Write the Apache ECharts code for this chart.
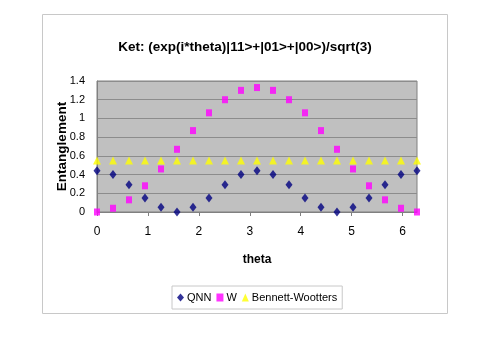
<!DOCTYPE html>
<html>
<head>
<meta charset="utf-8">
<script src="https://cdn.jsdelivr.net/npm/echarts@6/dist/echarts.min.js"></script>
<style>
  html, body { margin: 0; padding: 0; background: #fff; }
  #chart { width: 483px; height: 338px; }
</style>
</head>
<body>
<div id="chart"></div>
<script>
// theta samples, step pi/10
var theta = [0, 0.314, 0.628, 0.942, 1.257, 1.571, 1.885, 2.199, 2.513, 2.827, 3.142,
             3.456, 3.770, 4.084, 4.398, 4.712, 5.027, 5.341, 5.655, 5.969, 6.283];
var qnn = [0.44, 0.40, 0.29, 0.15, 0.05, 0.00, 0.05, 0.15, 0.29, 0.40, 0.44,
           0.40, 0.29, 0.15, 0.05, 0.00, 0.05, 0.15, 0.29, 0.40, 0.44];
var w = [0.00, 0.04, 0.13, 0.28, 0.46, 0.67, 0.87, 1.06, 1.20, 1.30, 1.33,
         1.30, 1.20, 1.06, 0.87, 0.67, 0.46, 0.28, 0.13, 0.04, 0.00];
var bw = [0.55, 0.55, 0.55, 0.55, 0.55, 0.55, 0.55, 0.55, 0.55, 0.55, 0.55,
          0.55, 0.55, 0.55, 0.55, 0.55, 0.55, 0.55, 0.55, 0.55, 0.55];
var xTicks = [0, 1, 2, 3, 4, 5, 6];

function pairs(ys) {
    return theta.map(function (t, i) { return [t, ys[i]]; });
}

var chart = echarts.init(document.getElementById('chart'));
var font = 'Liberation Sans, Arial, sans-serif';

chart.setOption({
    animation: false,
    textStyle: { fontFamily: font },
    title: {
        text: 'Ket: (exp(i*theta)|11>+|01>+|00>)/sqrt(3)',
        left: 240,
        textAlign: 'center',
        top: 35,
        textStyle: { fontFamily: font, fontSize: 13.5, fontWeight: 'bold', color: '#000' }
    },
    graphic: [{
        type: 'rect',
        shape: { x: 42.5, y: 14.5, width: 405, height: 299 },
        style: { fill: null, stroke: '#c8c8c8', lineWidth: 1 },
        silent: true
    }],
    grid: {
        left: 97, right: 66, top: 81, bottom: 126,
        show: true,
        backgroundColor: '#c0c0c0',
        borderColor: '#808080',
        borderWidth: 1
    },
    legend: {
        bottom: 29,
        left: 172,
        padding: [6, 5, 6, 5],
        borderColor: '#c8c8c8',
        borderWidth: 1,
        itemWidth: 7,
        itemHeight: 8,
        itemGap: 5,
        textStyle: { fontFamily: font, fontSize: 11, color: '#000', padding: [0, 0, 0, -2] },
        data: [
            { name: 'QNN', icon: 'diamond' },
            { name: 'W', icon: 'rect' },
            { name: 'Bennett-Wootters', icon: 'triangle' }
        ]
    },
    xAxis: {
        type: 'value',
        min: 0,
        max: 6.2832,
        name: 'theta',
        nameLocation: 'middle',
        nameGap: 42,
        nameMoveOverlap: false,
        nameTextStyle: { fontFamily: font, fontSize: 12, fontWeight: 'bold', color: '#000' },
        axisLine: { onZero: false, lineStyle: { color: '#808080' } },
        axisTick: { show: true, length: 4, customValues: xTicks, lineStyle: { color: '#808080' } },
        axisLabel: { customValues: xTicks, fontSize: 12, color: '#000', margin: 14 },
        splitLine: { show: false }
    },
    yAxis: {
        type: 'value',
        min: 0,
        max: 1.4,
        interval: 0.2,
        name: 'Entanglement',
        nameLocation: 'middle',
        nameGap: 28,
        nameMoveOverlap: false,
        nameTextStyle: { fontFamily: font, fontSize: 13.5, fontWeight: 'bold', color: '#000' },
        axisLine: { show: true, lineStyle: { color: '#808080' } },
        axisTick: { show: false },
        axisLabel: { fontSize: 11, color: '#000', margin: 12 },
        splitLine: { show: true, lineStyle: { color: '#8c8c8c', width: 1 } }
    },
    series: [{
        name: 'QNN',
        type: 'scatter',
        symbol: 'diamond',
        symbolSize: [7, 9],
        itemStyle: { color: '#000080' },
        data: pairs(qnn)
    }, {
        name: 'W',
        type: 'scatter',
        symbol: 'rect',
        symbolSize: [6, 7],
        itemStyle: { color: '#ff00ff' },
        data: pairs(w)
    }, {
        name: 'Bennett-Wootters',
        type: 'scatter',
        symbol: 'triangle',
        symbolSize: [8, 8],
        itemStyle: { color: '#ffff00' },
        data: pairs(bw)
    }]
});
</script>
</body>
</html>
